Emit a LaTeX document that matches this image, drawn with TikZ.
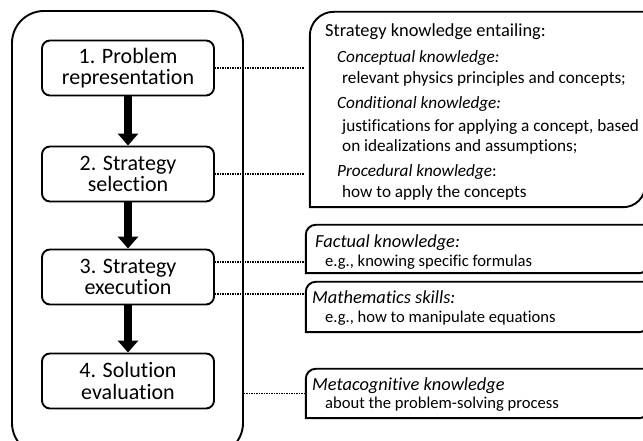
\documentclass[tikz,border=0pt]{standalone}
\usepackage{fontspec}
\setmainfont{Carlito}[Ligatures=NoCommon]
\usetikzlibrary{arrows.meta,calc}
\tikzset{
  stepbox/.style={draw, line width=1.9pt, rounded corners=8pt, minimum width=172pt, minimum height=55pt, inner sep=0pt, align=center, font=\fontsize{22}{21.7}\selectfont},
  outerbox/.style={draw, line width=1.9pt, rounded corners=32pt, minimum width=231pt, minimum height=444pt, inner sep=0pt},
  kbox/.style={draw=none, inner sep=0pt},
  kline/.style={line width=1.9pt},
  bigarrow/.style={line width=8pt, -{Triangle[width=20pt,length=12pt]}},
  dotline/.style={line width=1.6pt, dash pattern=on 1.2pt off 1.3pt},
  ttl/.style={anchor=base west, inner sep=0pt, font=\fontsize{18.4}{20}\selectfont},
  hd/.style={anchor=base west, inner sep=0pt, font=\fontsize{17.2}{19}\selectfont\itshape},
  tx/.style={anchor=base west, inner sep=0pt, font=\fontsize{17.2}{19}\selectfont},
  hdb/.style={anchor=base west, inner sep=0pt, font=\fontsize{18.4}{20}\selectfont\itshape},
  txb/.style={anchor=base west, inner sep=0pt, font=\fontsize{16.6}{19}\selectfont},
}
\begin{document}
\begin{tikzpicture}[x=1pt,y=1pt]
\useasboundingbox (0,0) rectangle (643,441);
\clip (0,0) rectangle (643,441);
% outer box
\node[outerbox] (outer) at (127.5,208) {};
% steps
\node[stepbox] (s1) at (128,373) {1. Problem\\representation};
\node[stepbox] (s2) at (128,267) {2. Strategy\\selection};
\node[stepbox] (s3) at (128,164) {3. Strategy\\execution};
\node[stepbox] (s4) at (128,60) {4. Solution\\evaluation};
\draw[bigarrow] (s1.south) -- (s2.north);
\draw[bigarrow] (s2.south) -- (s3.north);
\draw[bigarrow] (s3.south) -- (s4.north);
% knowledge boxes
\node[kbox, minimum width=335pt, minimum height=195pt] (kb) at (477.5,331.5) {};
\node[kbox, minimum width=341pt, minimum height=48pt] (fk) at (476.5,192) {};
\node[kbox, minimum width=341pt, minimum height=50pt] (mk) at (476.5,134) {};
\node[kbox, minimum width=341pt, minimum height=49pt] (mc) at (476.5,47.5) {};
\draw[kline] (kb.south west) -- ([yshift=-24pt]kb.north west) arc[start angle=180, end angle=90, radius=24pt] -- (kb.north east) -- ([yshift=22pt]kb.south east) arc[start angle=0, end angle=-90, radius=22pt] -- cycle;
\foreach \b in {fk,mk,mc}{
  \draw[kline] (\b.south west) -- ([yshift=-10pt]\b.north west) arc[start angle=180, end angle=90, radius=10pt] -- (\b.north east) -- ([yshift=8pt]\b.south east) arc[start angle=0, end angle=-90, radius=8pt] -- cycle;
}
% dotted connectors
\coordinate (s3a) at ([yshift=15pt]s3.east);
\coordinate (s3b) at ([yshift=-17pt]s3.east);
\coordinate (s4a) at (outer.east |- mc.west);
\draw[dotline] (s1.east) -- ([xshift=-5pt]kb.west |- s1.east);
\draw[dotline] (s2.east) -- ([xshift=-5pt]kb.west |- s2.east);
\draw[dotline] (s3a) -- ([xshift=-1pt]fk.west |- s3a);
\draw[dotline] (s3b) -- ([xshift=-1pt]mk.west |- s3b);
\draw[dotline] (s4a) -- ([xshift=-1pt]mc.west);
% texts
\node[ttl] (t0) at (325,404) {Strategy knowledge entailing:};
\node[hd] (t1) at (337,378) {Conceptual knowledge:};
\node[tx] (t2) at (342,357.5) {relevant physics principles and concepts;};
\node[hd] (t3) at (337,332) {Conditional knowledge:};
\node[tx] (t4) at (342,309.3) {justifications for applying a concept, based};
\node[tx] (t5) at (342,289.3) {on idealizations and assumptions;};
\node[hd] (t6) at (337,264.3) {Procedural knowledge\upshape:};
\node[tx] (t7) at (342,243) {how to apply the concepts};
\node[hdb] (f1) at (315,193.3) {Factual knowledge:};
\node[txb] (f2) at (325,174.3) {e.g., knowing specific formulas};
\node[hdb] (m1) at (312,137) {Mathematics skills:};
\node[txb] (m2) at (325,118) {e.g., how to manipulate equations};
\node[hdb] (c1) at (312,50.3) {Metacognitive knowledge};
\node[txb] (c2) at (325,32) {about the problem-solving process};
\end{tikzpicture}
\end{document}
